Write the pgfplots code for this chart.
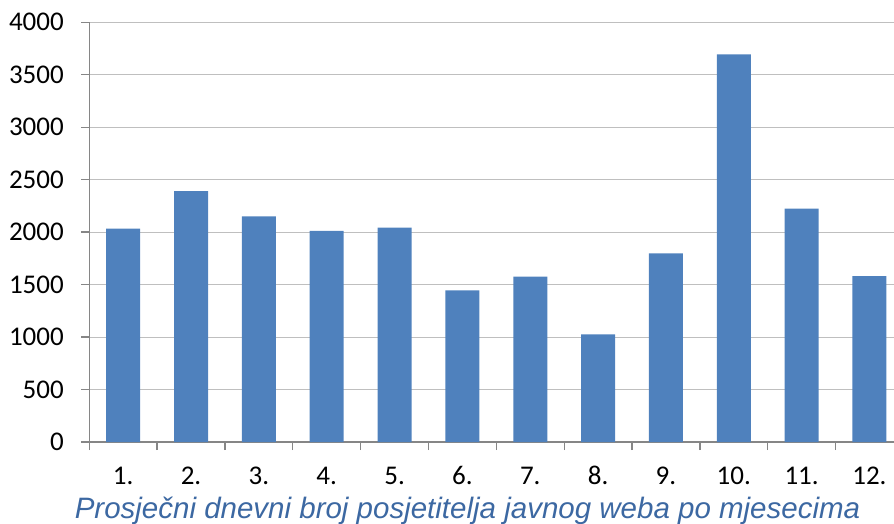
\documentclass[border=0pt]{standalone}
\usepackage{fontspec}
\setmainfont{Carlito}
\newfontfamily\titlefont{Liberation Sans}
\usepackage{pgfplots}
\pgfplotsset{compat=1.18}
\definecolor{barblue}{RGB}{79,129,189}
\definecolor{titleblue}{RGB}{60,104,162}
\definecolor{axgray}{RGB}{134,134,134}
\definecolor{gridgray}{RGB}{191,191,191}
\begin{document}
\begin{tikzpicture}
\begin{axis}[
  at={(0,0)}, anchor=south west,
  scale only axis, width=804.7bp, height=419.7bp,
  xmin=0.5, xmax=12.362, ymin=0, ymax=4000,
  axis lines*=left,
  axis line style={axgray, line width=1.3bp},
  ytick={0,500,...,4000},
  ymajorgrids, grid style={gridgray, line width=1bp},
  tick align=outside, major tick length=8bp,
  tick style={axgray, line width=1.3bp},
  xtick={0.5,1.5,...,11.5}, xticklabels={},
  extra x ticks={1,2,...,12},
  extra x tick labels={1.,2.,3.,4.,5.,6.,7.,8.,9.,10.,11.,12.},
  extra x tick style={major tick length=0pt,
     tick label style={anchor=base, yshift=-42bp}},
  ticklabel style={font=\fontsize{27bp}{32bp}\selectfont, text=black},
  yticklabel style={anchor=east, xshift=-14bp},
  /pgf/number format/assume math mode=true,
  scaled y ticks=false,
  yticklabel={\pgfmathprintnumber[fixed,1000 sep={}]{\tick}},
  clip=false,
  xlabel={Prosječni dnevni broj posjetitelja javnog weba po mjesecima},
  xlabel style={at={(rel axis cs:0.470,0)}, anchor=base, yshift=-76bp,
     font=\titlefont\itshape\fontsize{29.5bp}{35bp}\selectfont, text=titleblue},
]
\addplot[ybar, bar width=34bp, fill=barblue, draw=none] coordinates {
 (1,2033) (2,2392) (3,2151) (4,2011) (5,2043) (6,1446)
 (7,1576) (8,1026) (9,1798) (10,3695) (11,2224) (12,1582)
};
\end{axis}
\pgfresetboundingbox
\path[use as bounding box] (-89.3bp,-82bp) rectangle (804.7bp,442bp);
\end{tikzpicture}
\end{document}
